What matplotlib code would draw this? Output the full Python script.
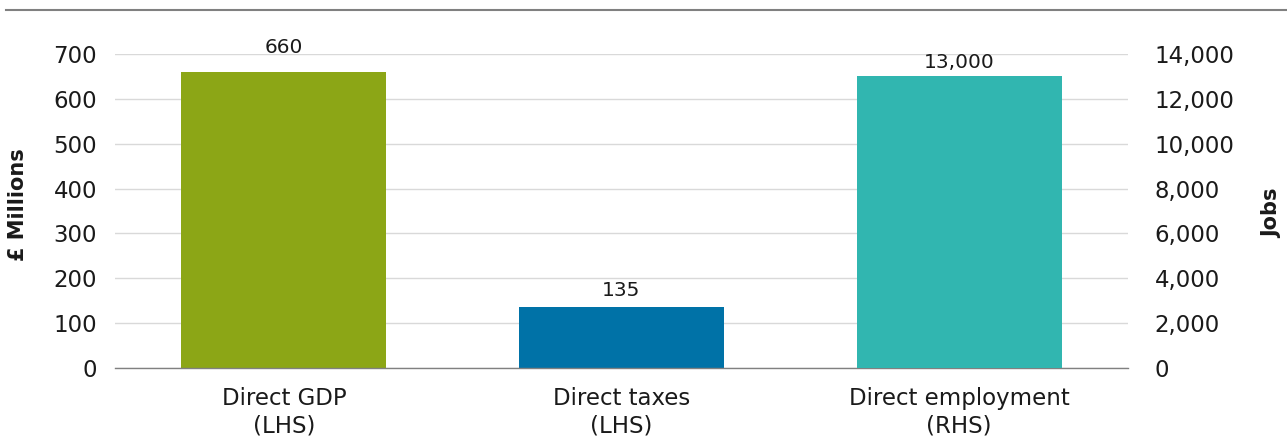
import matplotlib.pyplot as plt
from matplotlib.lines import Line2D

# Data
categories = ["Direct GDP\n(LHS)", "Direct taxes\n(LHS)", "Direct employment\n(RHS)"]
gbp_millions = [660, 135]          # left axis series
jobs = [13000]                     # right axis series
value_labels = ["660", "135", "13,000"]
left_ticks = [0, 100, 200, 300, 400, 500, 600, 700]
right_ticks = [0, 2000, 4000, 6000, 8000, 10000, 12000, 14000]
colors = ["#8ca616", "#0072a7", "#31b6b0"]

plt.rcParams['font.family'] = ['DejaVu Sans']

W, H = 1287, 436
fig = plt.figure(figsize=(W / 100, H / 100), dpi=100)
ax = fig.add_axes([115 / W, 1 - 368 / H, (1128 - 115) / W, (368 - 54) / H])
ax2 = ax.twinx()

x = list(range(len(categories)))
bw = 0.607
ax.bar(x[:2], gbp_millions, width=bw, color=colors[:2], zorder=3)
ax2.bar(x[2:], jobs, width=bw, color=colors[2:], zorder=3)

ax.set_xlim(-0.5, 2.5)
ax.set_ylim(0, 700)
ax2.set_ylim(0, 14000)

ax.set_yticks(left_ticks)
ax.set_yticklabels([str(v) for v in left_ticks])
ax2.set_yticks(right_ticks)
ax2.set_yticklabels([f"{v:,}" for v in right_ticks])

ax.yaxis.grid(True, color="#d9d9d9", linewidth=1.0, zorder=0)
ax.set_axisbelow(True)

for a in (ax, ax2):
    for s in a.spines.values():
        s.set_visible(False)
ax.spines['bottom'].set_visible(True)
ax.spines['bottom'].set_color("#808080")
ax.spines['bottom'].set_linewidth(1.0)
ax.spines['bottom'].set_zorder(5)

txt = "#1a1a1a"
ax.tick_params(axis='y', length=0, pad=13, labelsize=16.5, labelcolor=txt)
ax2.tick_params(axis='y', length=0, pad=19, labelsize=16.5, labelcolor=txt)
ax.set_xticks(x)
ax.set_xticklabels(categories, fontsize=16.5, color=txt, linespacing=1.2)
ax.tick_params(axis='x', length=0, pad=14)

# value labels above bars
offsets = [11, 5, 3]
for i, v in enumerate(gbp_millions):
    ax.annotate(value_labels[i], (x[i], v), xytext=(0, offsets[i]), textcoords="offset points",
                ha="center", va="bottom", fontsize=14.5, color=txt)
for j, v in enumerate(jobs):
    ax2.annotate(value_labels[2 + j], (x[2 + j], v), xytext=(0, offsets[2 + j]),
                 textcoords="offset points", ha="center", va="bottom", fontsize=14.5, color=txt)

fig.text(18 / W, 1 - 205 / H, "£ Millions", rotation=90, ha="center", va="center",
         fontsize=15, fontweight="bold", color=txt)
fig.text(1272 / W, 1 - 213 / H, "Jobs", rotation=90, ha="center", va="center",
         fontsize=15, fontweight="bold", color=txt)

# top rule
fig.add_artist(Line2D([6 / W, 1.0], [1 - 10.5 / H, 1 - 10.5 / H], transform=fig.transFigure,
                      color="#808080", linewidth=1.5))

fig.savefig("out.png", dpi=100)
